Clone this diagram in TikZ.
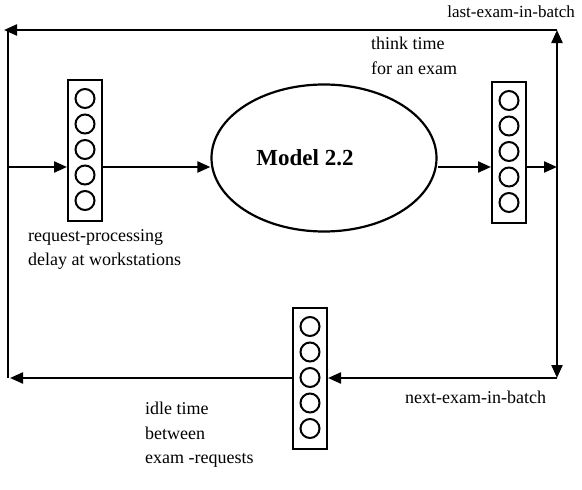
\documentclass[tikz,border=0pt]{standalone}
\usepackage{fontspec}
\setmainfont{Liberation Serif}
\usetikzlibrary{shapes.geometric,arrows.meta,calc,positioning}

\begin{document}
\begin{tikzpicture}[
    x=1pt, y=-1pt,
    queue/.style={
        rectangle,
        draw,
        line width=2pt,
        minimum width=34pt,
        minimum height=141pt,
        inner sep=0pt
    },
    slot/.style={
        circle,
        draw,
        line width=2pt,
        minimum size=19pt,
        inner sep=0pt
    },
    model/.style={
        ellipse,
        draw,
        line width=2.2pt,
        minimum width=225pt,
        minimum height=147pt,
        label={[xshift=-19pt,font=\fontsize{23}{26}\selectfont\bfseries]center:Model 2.2}
    },
    note/.style={
        align=left,
        inner sep=0pt,
        font=\fontsize{18}{24.5}\selectfont
    },
    line/.style={
        draw,
        line width=2.2pt,
        -{Triangle[length=13pt,width=11pt]}
    },
    plain/.style={
        draw,
        line width=2.2pt
    }
]
    \useasboundingbox (0,0) rectangle (582,490);

    % --- Nodes ---
    \node [model] (model) at (324,158) {};
    \node [queue] (qleft) at (85,150) {};
    \node [queue] (qright) at (509,152) {};
    \node [queue] (qbot) at (310,378) {};

    \foreach \q in {qleft,qright,qbot}
        \foreach \k in {0,...,4}
            \node [slot] (\q-\k) at ($(\q.north)+(0,20+25.5*\k)$) {};

    % --- Corners of the loop ---
    \coordinate (tl) at (8,30);
    \coordinate (tr) at (557,30);
    \coordinate (bl) at (8,378);
    \coordinate (br) at (557,378);
    \coordinate (jl) at (8,167);
    \coordinate (jr) at (557,167);

    % --- Labels ---
    \node [note, anchor=east, font=\fontsize{17}{20}\selectfont] (last) at (575,12) {last-exam-in-batch};
    \node [note, anchor=north west] (think) at (371,37) {think time\\for an exam};
    \node [note, anchor=north west] (delay) at (28,229) {request-processing\\delay at workstations};
    \node [note, anchor=west] (next) at (405,397) {next-exam-in-batch};
    \node [note, anchor=north west] (idle) at (145,402) {idle time\\between\\exam -requests};

    % --- Flow lines ---
    \path [line] (jl) -- (qleft.west |- jl);
    \path [line] (qleft.east |- jl) -- (model.west |- jl);
    \path [line] (model.east |- jr) -- (qright.west |- jr);
    \path [line] (qright.east |- jr) -- (jr);
    \path [line] (jr) -- (tr);
    \path [line] (tr) -- ([xshift=-4pt]tl);
    \path [plain] (tl) -- (bl);
    \path [line] (jr) -- (br);
    \path [line] (br) -- (qbot.east |- br);
    \path [line] (qbot.west |- bl) -- ([xshift=2pt]bl);

\end{tikzpicture}
\end{document}
